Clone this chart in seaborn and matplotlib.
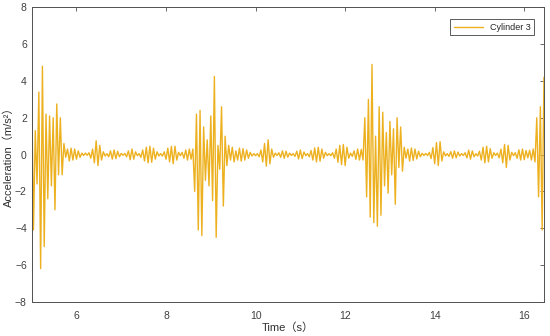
import numpy as np
import pandas as pd
import matplotlib
matplotlib.use('Agg')
import matplotlib.pyplot as plt
import seaborn as sns

# sampling of the trace (s)
T0 = 5.0
DT = 0.04

# acceleration samples (m/s^2)
burst_1 = [3.6, -4.1, 1.3, -1.6, 3.4, -6.2, 4.8, -5.0, 2.2, -2.4, 2.1, -1.7,
           2.0, -3.0, 2.75, -1.1, 2.0, -1.1]
quiet_1 = [0.6, -0.15, 0.3, -0.35, 0.35, -0.3, 0.3, -0.25, 0.2, -0.15, 0.08, -0.05,
           0.08, -0.04, 0.1, -0.2, 0.3, -0.45, 0.75, -0.6, 0.5, -0.3, 0.15, -0.08,
           0.05, -0.12, 0.2, -0.25, 0.25, -0.22, 0.18, -0.12, 0.06, -0.04, 0.06, -0.12,
           0.2, -0.28, 0.3, -0.25, 0.15, -0.06, 0.05, -0.15, 0.25, -0.35, 0.4, -0.45,
           0.45, -0.42, 0.35, -0.25, 0.15, -0.08, 0.05, -0.08, 0.15, -0.25, 0.35, -0.4,
           0.45, -0.5, 0.45, -0.3, 0.12, -0.06, 0.12, -0.2, 0.25, -0.3, 0.3, -0.25, 0.3]
burst_2 = [-2.0, 2.2, -4.1, 2.4, -4.4, 1.5, -1.4, 0.8, -1.7, 2.1, -2.5, 4.25,
           -4.5, 0.5, -0.8, 2.6, -2.8, 1.0, -0.6, 0.5, -0.3, 0.4]
quiet_2 = [-0.4, 0.2, -0.3, 0.35, -0.36, 0.32, -0.3, 0.25, -0.2, 0.12, -0.08, 0.05,
           -0.06, 0.05, -0.12, 0.25, -0.4, 0.6, -0.63, 0.8, -0.5, 0.3, -0.15, 0.08,
           -0.05, 0.1, -0.15, 0.2, -0.2, 0.18, -0.14, 0.08, -0.05, 0.05, -0.1, 0.18,
           -0.24, 0.25, -0.22, 0.14, -0.06, 0.05, -0.12, 0.22, -0.3, 0.36, -0.4, 0.4,
           -0.36, 0.3, -0.2, 0.12, -0.06, 0.05, -0.06, 0.1, -0.2, 0.3, -0.42, 0.5,
           -0.55, 0.55, -0.6, 0.4, -0.2, 0.08, -0.1, 0.2, -0.26, 0.3, -0.3, 0.28, -0.3]
burst_3 = [2.0, -2.3, 3.0, -3.4, 4.9, -3.7, 1.0, -3.9, 2.6, -3.3, 2.3, -1.7,
           1.2, -2.1, 1.8, -1.1, 1.4, -2.7, 2.0, -0.7, 1.5, -0.9]
quiet_3 = [0.4, -0.2, 0.3, -0.36, 0.36, -0.32, 0.3, -0.24, 0.18, -0.12, 0.07, -0.05,
           0.06, -0.05, 0.12, -0.22, 0.38, -0.5, 0.65, -0.6, 0.7, -0.35, 0.15, -0.07,
           0.05, -0.1, 0.16, -0.2, 0.2, -0.18, 0.14, -0.08, 0.05, -0.05, 0.1, -0.18,
           0.24, -0.25, 0.2, -0.12, 0.05, -0.08, 0.18, -0.3, 0.4, -0.45, 0.45, -0.4,
           0.32, -0.2, 0.1, -0.05, 0.08, -0.18, 0.3, -0.45, 0.55, -0.7, 0.5, -0.3,
           0.12, -0.06, 0.1, -0.2, 0.26, -0.3, 0.3, -0.28, 0.22, -0.18, 0.24, -0.3, 0.3]
burst_4 = [-0.4, 2.0, -2.3, 2.6, -4.1, 4.2]

acc = burst_1 + quiet_1 + burst_2 + quiet_2 + burst_3 + quiet_3 + burst_4
time = T0 + DT * np.arange(len(acc))
df = pd.DataFrame({'Time': time, 'Acceleration': acc})

sns.set_style('white')
plt.rcParams['font.family'] = ['Liberation Sans', 'Noto Sans CJK SC', 'DejaVu Sans']

fig = plt.figure(figsize=(5.5, 3.36), dpi=100)
ax = fig.add_axes([0.0576, 0.102, 0.9314, 0.876])

sns.lineplot(data=df, x='Time', y='Acceleration', estimator=None, sort=False,
             color='#EDB120', linewidth=1.0, label='Cylinder 3', ax=ax)

axis_col = '#505050'
ax.set_xlim(5, 16.44)
ax.set_ylim(-8, 8)
ax.set_xticks([6, 8, 10, 12, 14, 16])
ax.set_yticks([-8, -6, -4, -2, 0, 2, 4, 6, 8])
ax.tick_params(direction='in', top=True, right=True, length=3, width=0.6,
               color=axis_col, labelcolor='#404040', labelsize=7.5)
ax.tick_params(axis='x', pad=7)
for s in ax.spines.values():
    s.set_color(axis_col)
    s.set_linewidth(0.7)

ax.set_xlabel('Time（s）', fontsize=8, color='#303030', labelpad=1)
ax.set_ylabel('Acceleration（m/s²）', fontsize=8, color='#303030', labelpad=1)

leg = ax.legend(loc='upper right', fontsize=6.5, frameon=True, fancybox=False,
                framealpha=1, edgecolor='#404040', handlelength=3.2,
                borderpad=0.4, bbox_to_anchor=(0.99, 0.975))
leg.get_frame().set_linewidth(0.6)

plt.savefig('out.png', dpi=100)
